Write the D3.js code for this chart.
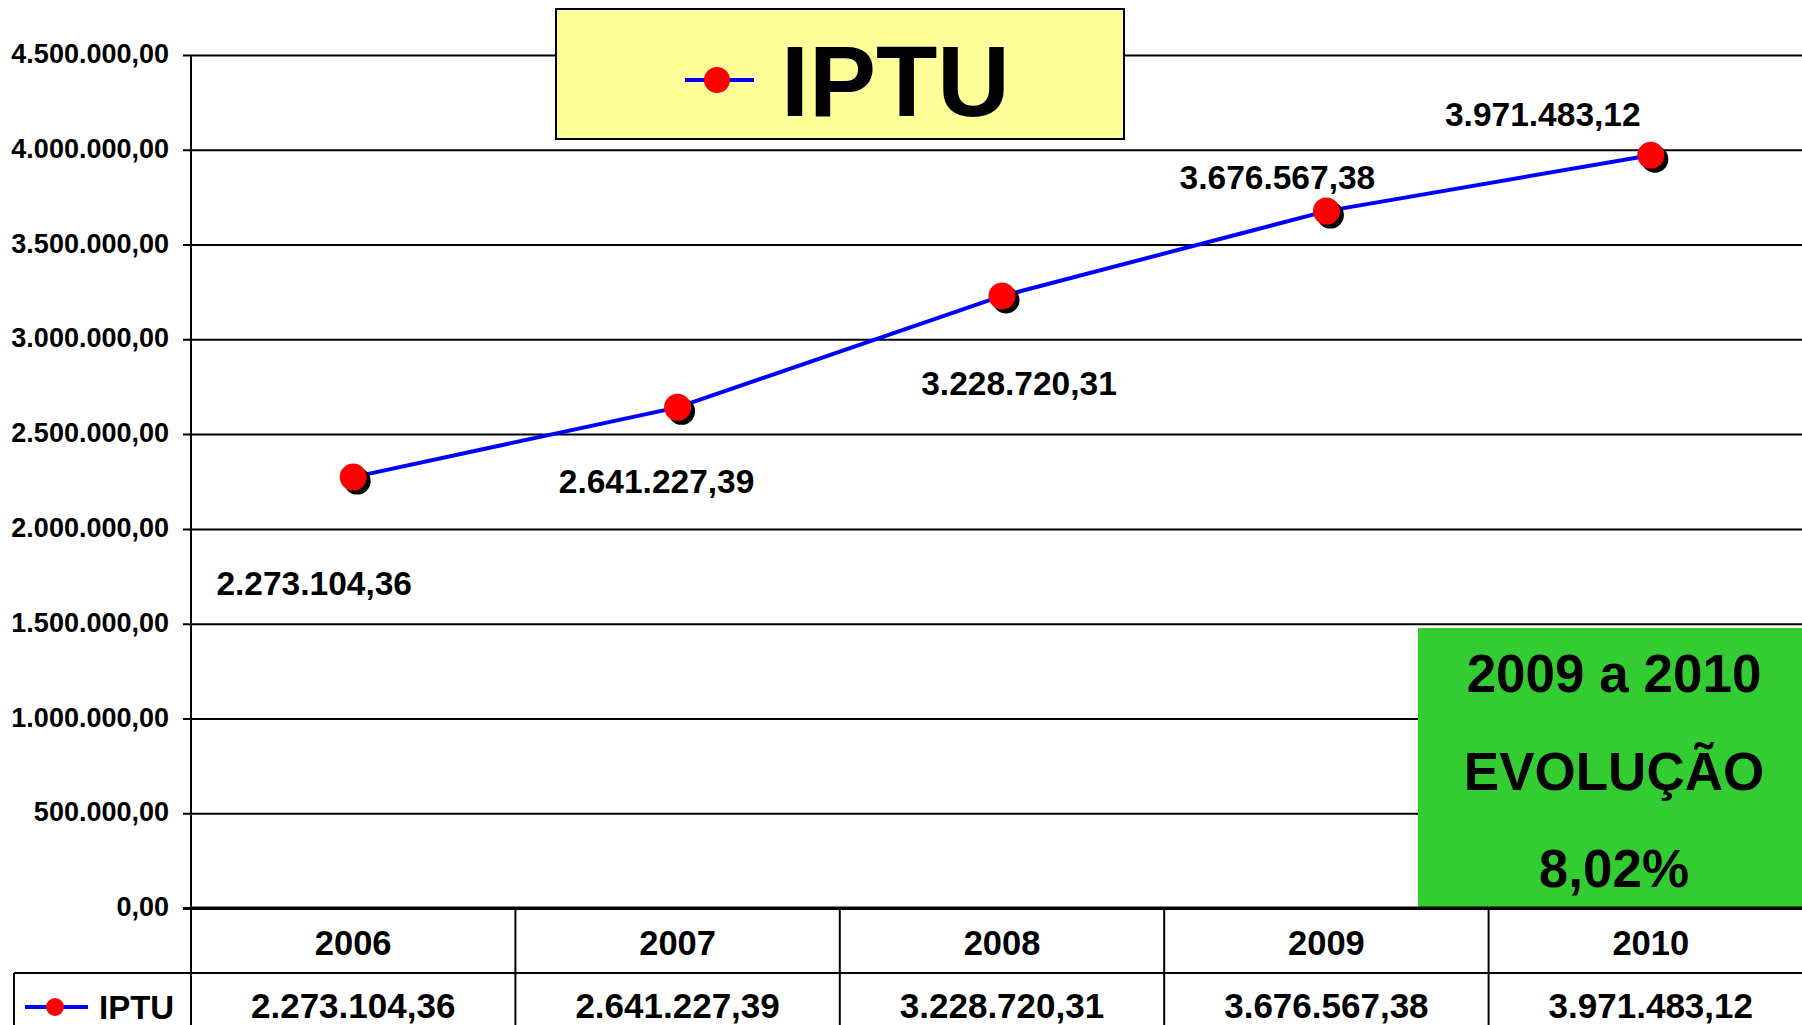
<!DOCTYPE html>
<html><head><meta charset="utf-8">
<script src="https://cdn.jsdelivr.net/npm/d3@7"></script>
<style>body{margin:0;background:#fff;overflow:hidden}svg{display:block;font-family:"Liberation Sans",Arial,sans-serif;font-weight:bold}</style>
</head><body>
<svg id="c" width="1802" height="1025"></svg>
<script>
const categories = ["2006","2007","2008","2009","2010"];
const iptuValues = [2273104.36, 2641227.39, 3228720.31, 3676567.38, 3971483.12];
const yTicks = [0,500000,1000000,1500000,2000000,2500000,3000000,3500000,4000000,4500000];
const seriesName = "IPTU";
const boxLines = ["2009 a 2010","EVOLUÇÃO","8,02%"];

const loc = d3.formatLocale({decimal:",",thousands:".",grouping:[3],currency:["",""]});
const fmt = loc.format(",.2f");
const svg = d3.select("#c");
const W=1802, plotTop=55, plotBottom=908, plotLeft=191;
const y = d3.scaleLinear().domain([0,4500000]).range([plotBottom,plotTop]);
const x = d3.scaleBand().domain(categories).range([plotLeft,1813]).padding(0);
const cx = d => x(d)+x.bandwidth()/2;

// gridlines + axis
const ax = svg.append("g").attr("transform",`translate(${plotLeft},0)`)
  .call(d3.axisLeft(y).tickValues(yTicks).tickFormat(fmt).tickSize(8).tickPadding(14));
ax.select(".domain").remove();
ax.selectAll(".tick line").attr("stroke","#000").attr("stroke-width",2).attr("x1",-8).attr("x2",W-plotLeft);
ax.selectAll(".tick text").attr("font-size",27).attr("font-family","Liberation Sans, Arial").attr("font-weight","bold").attr("fill","#000").attr("dy","0.28em");
ax.selectAll(".tick").filter(d=>d===0).select("line").attr("stroke-width",3);

// green box
const gb = svg.append("g");
gb.append("rect").attr("x",1418).attr("y",628).attr("width",W-1418).attr("height",plotBottom-628).attr("fill","#33CC33");
const gby=[692,790,887];
boxLines.forEach((t,i)=>gb.append("text").attr("x",1614).attr("y",gby[i]).attr("text-anchor","middle").attr("font-size",53).text(t));

// y axis line
svg.append("line").attr("x1",plotLeft).attr("x2",plotLeft).attr("y1",plotTop).attr("y2",1025).attr("stroke","#000").attr("stroke-width",2);

// table
const tbl = svg.append("g");
tbl.append("line").attr("x1",plotLeft).attr("x2",W).attr("y1",plotBottom).attr("y2",plotBottom).attr("stroke","#000").attr("stroke-width",3);
tbl.append("line").attr("x1",14).attr("x2",W).attr("y1",973).attr("y2",973).attr("stroke","#000").attr("stroke-width",2);
tbl.append("line").attr("x1",14).attr("x2",14).attr("y1",973).attr("y2",1025).attr("stroke","#000").attr("stroke-width",2);
categories.slice(1).forEach(c=>tbl.append("line").attr("x1",x(c)).attr("x2",x(c)).attr("y1",plotBottom).attr("y2",1025).attr("stroke","#000").attr("stroke-width",2));
categories.forEach((c,i)=>{
  tbl.append("text").attr("x",cx(c)).attr("y",955).attr("text-anchor","middle").attr("font-size",34.5).text(c);
  tbl.append("text").attr("x",cx(c)).attr("y",1018).attr("text-anchor","middle").attr("font-size",35).text(fmt(iptuValues[i]));
});
tbl.append("line").attr("x1",25).attr("x2",88).attr("y1",1007).attr("y2",1007).attr("stroke","#0000FF").attr("stroke-width",4);
tbl.append("circle").attr("cx",55).attr("cy",1007).attr("r",9).attr("fill","#FF0000");
tbl.append("text").attr("x",99).attr("y",1019).attr("font-size",33).text(seriesName);

// line
svg.append("path").datum(iptuValues).attr("fill","none").attr("stroke","#0000FF").attr("stroke-width",4)
  .attr("d",d3.line().x((d,i)=>cx(categories[i])).y(d=>y(d)));
const pts = svg.append("g");
iptuValues.forEach((v,i)=>{
  pts.append("circle").attr("cx",cx(categories[i])+4).attr("cy",y(v)+4).attr("r",13.5).attr("fill","#000");
  pts.append("circle").attr("cx",cx(categories[i])).attr("cy",y(v)).attr("r",13.5).attr("fill","#FF0000");
});
// data labels
const labelShift = [[-39,118],[-21,86],[17,99],[-49,-22],[-108,-29]];
iptuValues.forEach((v,i)=>{
  svg.append("text").attr("x",cx(categories[i])+labelShift[i][0]).attr("y",y(v)+labelShift[i][1])
    .attr("text-anchor","middle").attr("font-size",33.5).text(fmt(v));
});

// title box
const tb = svg.append("g");
tb.append("rect").attr("x",556).attr("y",9).attr("width",568).attr("height",130).attr("fill","#FFFF99").attr("stroke","#000").attr("stroke-width",2);
tb.append("line").attr("x1",685).attr("x2",754).attr("y1",80).attr("y2",80).attr("stroke","#0000FF").attr("stroke-width",4);
tb.append("circle").attr("cx",717).attr("cy",80).attr("r",13).attr("fill","#FF0000");
tb.append("text").attr("x",781).attr("y",116).attr("font-size",100.5).text(seriesName);
</script>
</body></html>
